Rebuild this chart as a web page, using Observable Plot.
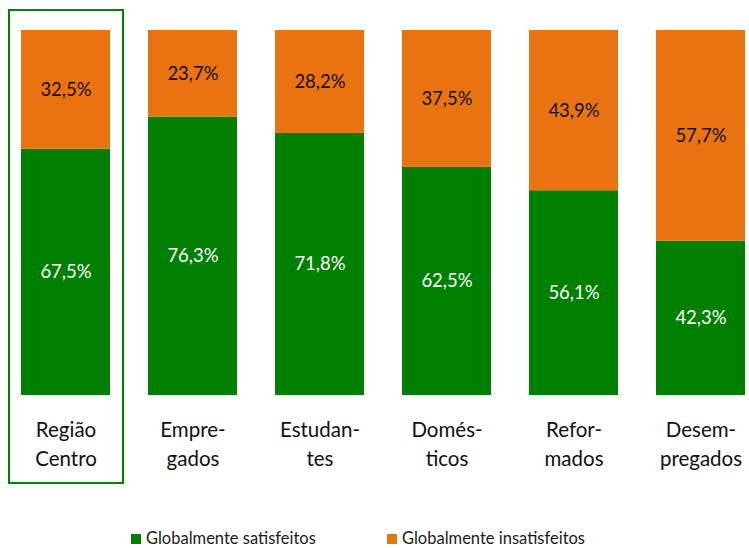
<!DOCTYPE html>
<html>
<head>
<meta charset="utf-8">
<script src="https://cdn.jsdelivr.net/npm/d3@7"></script>
<script src="https://cdn.jsdelivr.net/npm/@observablehq/plot@0.6"></script>
<style>
  body { margin: 0; background: #fff; font-family: Lato, "Open Sans", sans-serif; overflow: hidden; }
  #legend { display: flex; padding-left: 131px; padding-top: 31px; font-size: 16.5px; line-height: 15px; color: #1a1a1a; }
  .item { display: flex; align-items: center; }
  .item:first-child { width: 256px; }
  .sw { width: 10px; height: 10px; margin-right: 5px; }
</style>
</head>
<body>
<div id="chart"></div>
<div id="legend"></div>
<script>
const categories = ["Região Centro", "Empregados", "Estudantes", "Domésticos", "Reformados", "Desempregados"];
const tickLabels = ["Região\nCentro", "Empre-\ngados", "Estudan-\ntes", "Domés-\nticos", "Refor-\nmados", "Desem-\npregados"];
const satisfeitos = [67.5, 76.3, 71.8, 62.5, 56.1, 42.3];
const insatisfeitos = [32.5, 23.7, 28.2, 37.5, 43.9, 57.7];
const seriesNames = ["Globalmente satisfeitos", "Globalmente insatisfeitos"];
const colors = ["#008000", "#E97311"];
const highlighted = ["Região Centro"];

const rows = [];
categories.forEach((c, i) => {
  rows.push({cat: c, serie: seriesNames[0], value: satisfeitos[i], y1: 0, y2: satisfeitos[i]});
  rows.push({cat: c, serie: seriesNames[1], value: insatisfeitos[i], y1: satisfeitos[i], y2: satisfeitos[i] + insatisfeitos[i]});
});
const fmt = v => v.toFixed(1).replace(".", ",") + "%";
const labelOf = Object.fromEntries(categories.map((c, i) => [c, tickLabels[i]]));

const chart = Plot.plot({
  width: 749,
  height: 500,
  marginTop: 30,
  marginBottom: 105,
  marginLeft: 21,
  marginRight: 4,
  style: {fontFamily: "Lato, 'Open Sans', sans-serif", background: "#fff"},
  x: {domain: categories, paddingInner: 0.3, paddingOuter: 0, axis: null},
  y: {domain: [0, 100], axis: null},
  color: {domain: seriesNames, range: colors},
  marks: [
    Plot.rectY(rows, {x: "cat", y1: "y1", y2: "y2", fill: "serie"}),
    Plot.text(rows, {
      x: "cat", y: d => (d.y1 + d.y2) / 2, text: d => fmt(d.value),
      fill: d => d.serie === seriesNames[0] ? "#ffffff" : "#111111",
      fontSize: 18.5
    }),
    Plot.text(categories, {
      x: d => d, y: 0, text: d => labelOf[d], dy: 47,
      fontSize: 20.5, lineHeight: 1.37, fill: "#111", textAnchor: "middle", lineAnchor: "middle"
    }),
    Plot.rect(highlighted, {
      x: d => d, y1: 0, y2: 100,
      fill: "none", stroke: "#008000", strokeWidth: 2,
      insetLeft: -12, insetRight: -13, insetTop: -20, insetBottom: -88
    })
  ]
});
document.getElementById("chart").appendChild(chart);

const legend = document.getElementById("legend");
seriesNames.forEach((n, i) => {
  const it = document.createElement("div");
  it.className = "item";
  it.innerHTML = `<span class="sw" style="background:${colors[i]}"></span><span>${n}</span>`;
  legend.appendChild(it);
});
</script>
</body>
</html>
